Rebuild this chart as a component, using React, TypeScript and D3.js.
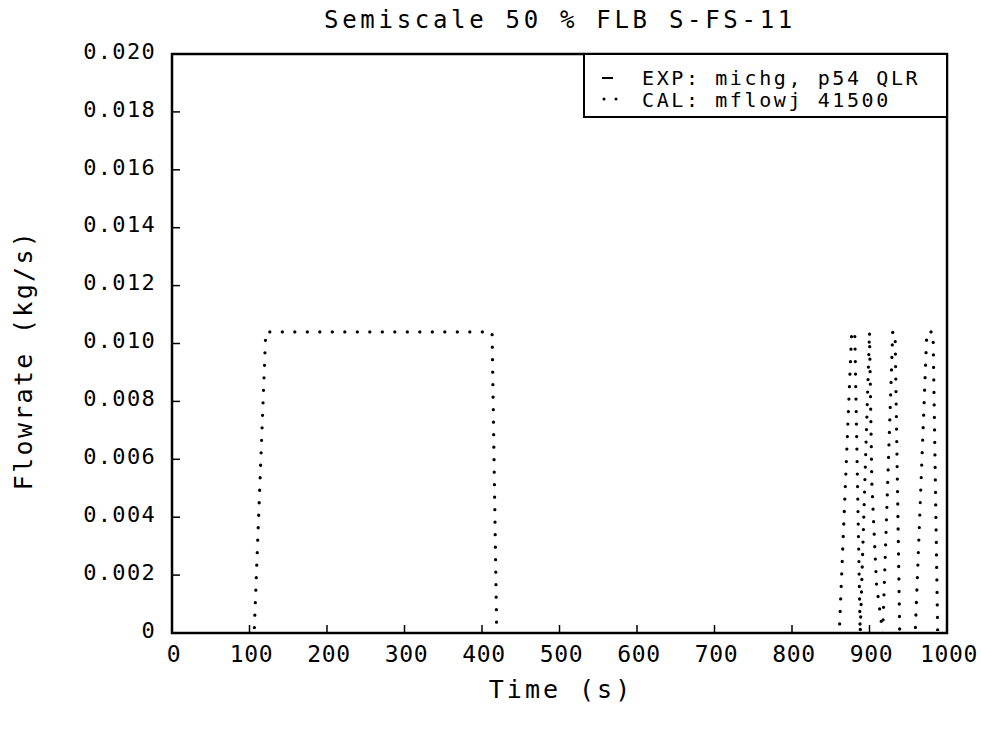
import React, { useEffect, useRef } from 'react';
import * as d3 from 'd3';

// CAL: mflowj 41500 (time s, flowrate kg/s)
const calTime = [0, 106, 121, 413, 419, 861, 877, 881, 888, 900, 903, 909, 917, 930, 933, 939, 959, 974, 982, 988, 1000];
const calFlow = [0, 0, 0.0104, 0.0104, 0, 0, 0.0104, 0.0104, 0, 0.0104, 0.0052, 0.0017, 0, 0.0104, 0.0104, 0, 0, 0.0104, 0.0104, 0, 0];

const xTicks = [0, 100, 200, 300, 400, 500, 600, 700, 800, 900, 1000];
const yTicks = [0, 0.002, 0.004, 0.006, 0.008, 0.01, 0.012, 0.014, 0.016, 0.018, 0.02];
const legendLabels = ['EXP: michg, p54 QLR', 'CAL: mflowj 41500'];

const FONT = '"DejaVu Sans Mono", monospace';

const App = () => {
  const ref = useRef<SVGSVGElement>(null);

  useEffect(() => {
    const svg = d3.select(ref.current);
    svg.selectAll('*').remove();

    const x = d3.scaleLinear().domain([0, 1000]).range([172, 947]);
    const y = d3.scaleLinear().domain([0, 0.02]).range([633, 54]);

    // clip so the zero-level dots hide under the axis
    svg.append('defs').append('clipPath').attr('id', 'plotclip')
      .append('rect')
      .attr('x', x(0)).attr('y', y(0.02))
      .attr('width', x(1000) - x(0)).attr('height', y(0) - y(0.02) - 2);

    // CAL dotted line
    const line = d3.line<number>()
      .x((d, i) => x(calTime[i]))
      .y((d) => y(d));
    svg.append('path')
      .datum(calFlow)
      .attr('d', line)
      .attr('clip-path', 'url(#plotclip)')
      .attr('fill', 'none')
      .attr('stroke', '#000')
      .attr('stroke-width', 3.3)
      .attr('stroke-linecap', 'round')
      .attr('stroke-dasharray', '0 12.5');

    // frame
    svg.append('rect')
      .attr('x', x(0)).attr('y', y(0.02))
      .attr('width', x(1000) - x(0)).attr('height', y(0) - y(0.02))
      .attr('fill', 'none').attr('stroke', '#000').attr('stroke-width', 2.5);

    // y ticks (inward)
    const yAxis = svg.append('g');
    yAxis.selectAll('line').data(yTicks).enter().append('line')
      .attr('x1', x(0)).attr('x2', x(0) + 8)
      .attr('y1', (d) => y(d)).attr('y2', (d) => y(d))
      .attr('stroke', '#000').attr('stroke-width', 1.5);
    yAxis.selectAll('text').data(yTicks).enter().append('text')
      .attr('x', 156).attr('y', (d) => y(d) - 3)
      .attr('dy', '0.35em')
      .attr('text-anchor', 'end')
      .style('font-family', FONT).style('font-size', '22px').style('letter-spacing', '1.3px')
      .text((d) => (d === 0 ? '0' : d3.format('.3f')(d)));

    // x ticks (inward)
    const xAxis = svg.append('g');
    xAxis.selectAll('line').data(xTicks).enter().append('line')
      .attr('x1', (d) => x(d)).attr('x2', (d) => x(d))
      .attr('y1', y(0)).attr('y2', y(0) - 8)
      .attr('stroke', '#000').attr('stroke-width', 1.5);
    xAxis.selectAll('text').data(xTicks).enter().append('text')
      .attr('x', (d) => x(d) + 2).attr('y', 662)
      .attr('text-anchor', 'middle')
      .style('font-family', FONT).style('font-size', '23px').style('letter-spacing', '0.6px')
      .text((d) => d);

    // legend
    const lg = svg.append('g');
    lg.append('rect')
      .attr('x', 584).attr('y', y(0.02))
      .attr('width', x(1000) - 584).attr('height', 63)
      .attr('fill', '#fff').attr('stroke', '#000').attr('stroke-width', 2);
    lg.append('line')
      .attr('x1', 602).attr('x2', 613).attr('y1', 78).attr('y2', 78)
      .attr('stroke', '#000').attr('stroke-width', 2);
    lg.append('line')
      .attr('x1', 604).attr('x2', 617).attr('y1', 99).attr('y2', 99)
      .attr('stroke', '#000').attr('stroke-width', 3)
      .attr('stroke-linecap', 'round').attr('stroke-dasharray', '0 12');
    lg.selectAll('text').data(legendLabels).enter().append('text')
      .attr('x', 642).attr('y', (d, i) => 85 + i * 22)
      .style('font-family', FONT).style('font-size', '20px').style('letter-spacing', '2.6px')
      .text((d) => d);

    // titles
    svg.append('text')
      .attr('x', 560).attr('y', 28)
      .attr('text-anchor', 'middle')
      .style('font-family', FONT).style('font-size', '24px').style('letter-spacing', '3.7px')
      .text('Semiscale 50 % FLB S-FS-11');
    svg.append('text')
      .attr('x', 561).attr('y', 698)
      .attr('text-anchor', 'middle')
      .style('font-family', FONT).style('font-size', '25px').style('letter-spacing', '3px')
      .text('Time (s)');
    svg.append('text')
      .attr('transform', 'translate(32,360) rotate(-90)')
      .attr('text-anchor', 'middle')
      .style('font-family', FONT).style('font-size', '25px').style('letter-spacing', '2.3px')
      .text('Flowrate (kg/s)');
  }, []);

  return (
    <svg ref={ref} width={981} height={734}
      style={{ position: 'absolute', left: 0, top: 0, background: '#fff' }} />
  );
};

export default App;
